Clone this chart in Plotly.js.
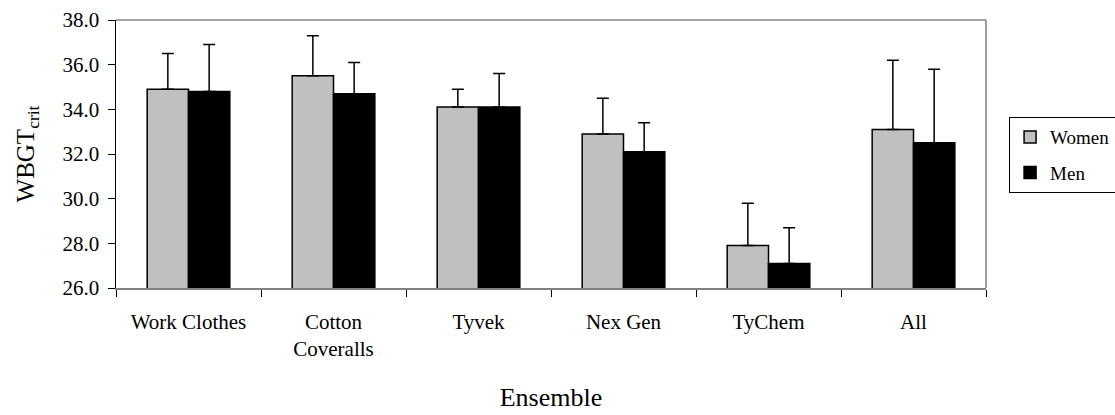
<!DOCTYPE html>
<html>
<head>
<meta charset="utf-8">
<script src="https://cdn.plot.ly/plotly-3.0.1.min.js"></script>
<style>html,body{margin:0;padding:0;background:#fff;}#chart{width:1115px;height:415px;}</style>
</head>
<body>
<div id="chart"></div>
<script>
const categories = ["Work Clothes", "Cotton<br>Coveralls", "Tyvek", "Nex Gen", "TyChem", "All"];
const womenValues = [34.9, 35.5, 34.1, 32.9, 27.9, 33.1];
const womenErrors = [1.6, 1.8, 0.8, 1.6, 1.9, 3.1];
const menValues = [34.8, 34.7, 34.1, 32.1, 27.1, 32.5];
const menErrors = [2.1, 1.4, 1.5, 1.3, 1.6, 3.3];
const yTickVals = [26, 28, 30, 32, 34, 36, 38];

const serifFamily = 'Liberation Serif';
const zeroMinus = categories.map(() => 0);

const traces = [
  {
    type: 'bar', name: 'Women', legendgroup: 'w', x: categories, y: womenValues,
    marker: {color: '#c0c0c0', line: {color: '#000', width: 1.5}},
    error_y: {type: 'data', symmetric: false, array: womenErrors, arrayminus: zeroMinus, color: '#000', thickness: 1.5, width: 6}
  },
  {
    type: 'bar', name: 'Men', legendgroup: 'm', x: categories, y: menValues,
    marker: {color: '#000000', line: {color: '#000', width: 1.5}},
    error_y: {type: 'data', symmetric: false, array: menErrors, arrayminus: zeroMinus, color: '#000', thickness: 1.5, width: 6}
  }
];

const layout = {
  width: 1115, height: 415,
  margin: {l: 116, r: 129, t: 20, b: 127},
  paper_bgcolor: '#fff', plot_bgcolor: '#fff',
  font: {family: serifFamily, size: 21, color: '#000'},
  barmode: 'group', bargap: 0.43, bargroupgap: 0,
  showlegend: true,
  legend: {
    xref: 'container', yref: 'container',
    x: 0.905, xanchor: 'left', y: 0.718, yanchor: 'top',
    bordercolor: '#000', borderwidth: 1, bgcolor: '#fff',
    font: {size: 19},
    itemwidth: 30, traceorder: 'grouped', tracegroupgap: 8
  },
  xaxis: {
    type: 'category', automargin: false,
    showline: true, linecolor: '#808080', linewidth: 1.5,
    ticks: 'outside', tickson: 'boundaries', ticklen: 7, tickcolor: '#000', tickwidth: 1,
    showgrid: false, zeroline: false,
    tickfont: {size: 21},
    ticklabelstandoff: 14,
    title: {text: 'Ensemble', font: {size: 26}, standoff: 28}
  },
  yaxis: {
    range: [26, 38], tickvals: yTickVals, tickformat: '.1f', automargin: false,
    showline: true, linecolor: '#000', linewidth: 1.5,
    ticks: 'outside', ticklen: 7, tickcolor: '#000', tickwidth: 1,
    showgrid: false, zeroline: false,
    tickfont: {size: 21},
    ticklabelstandoff: 4,
    title: {text: 'WBGT<sub>crit</sub>', font: {size: 25}, standoff: 21}
  },
  shapes: [
    {type: 'line', xref: 'paper', yref: 'paper', x0: 0, x1: 1, y0: 1, y1: 1, line: {color: '#808080', width: 1.5}, layer: 'below'},
    {type: 'line', xref: 'paper', yref: 'paper', x0: 1, x1: 1, y0: 0, y1: 1, line: {color: '#808080', width: 1.5}, layer: 'below'}
  ]
};

Plotly.newPlot('chart', traces, layout, {displayModeBar: false, staticPlot: true});
</script>
</body>
</html>
